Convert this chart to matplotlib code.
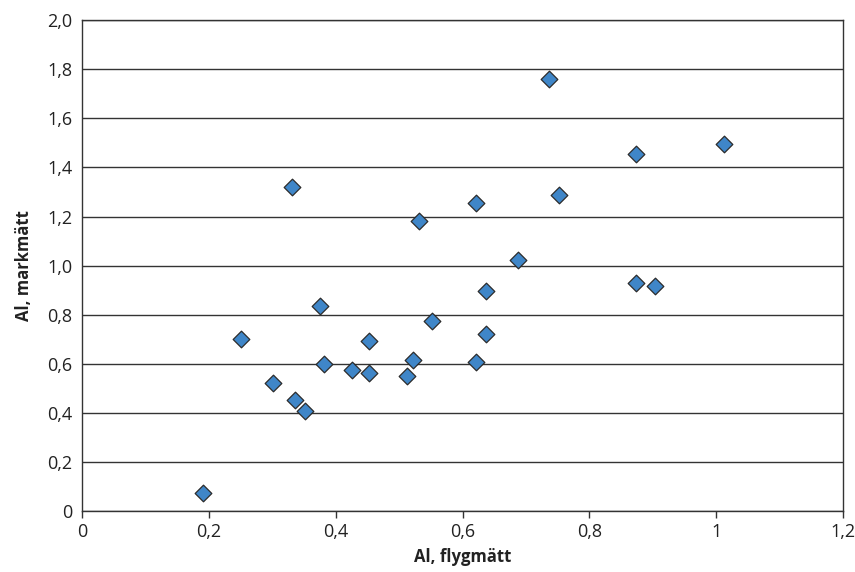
import matplotlib
matplotlib.use("Agg")
import matplotlib.pyplot as plt

# Al, flygmätt vs Al, markmätt
al_flyg = [0.191, 0.251, 0.301, 0.336, 0.352, 0.331, 0.376, 0.382, 0.426,
           0.452, 0.452, 0.512, 0.522, 0.532, 0.552, 0.622, 0.622, 0.637,
           0.637, 0.687, 0.737, 0.752, 0.873, 0.873, 0.903, 1.013]
al_mark = [0.077, 0.701, 0.522, 0.454, 0.409, 1.319, 0.835, 0.602, 0.576,
           0.693, 0.565, 0.553, 0.618, 1.181, 0.775, 0.607, 1.257, 0.897,
           0.722, 1.022, 1.759, 1.287, 1.456, 0.929, 0.918, 1.496]

x_ticks = [0, 0.2, 0.4, 0.6, 0.8, 1.0, 1.2]
x_labels = ["0", "0,2", "0,4", "0,6", "0,8", "1", "1,2"]
y_ticks = [0, 0.2, 0.4, 0.6, 0.8, 1.0, 1.2, 1.4, 1.6, 1.8, 2.0]
y_labels = ["0", "0,2", "0,4", "0,6", "0,8", "1,0", "1,2", "1,4", "1,6", "1,8", "2,0"]

plt.rcParams['font.family'] = ['Open Sans', 'DejaVu Sans']

fig = plt.figure(figsize=(8.55, 5.72), dpi=100)
ax = fig.add_axes([0.0959, 0.1058, 0.8901, 0.8592])

ax.scatter(al_flyg, al_mark, marker='D', s=72, c='#3F86C8',
           edgecolors='#2b2b2b', linewidths=0.9, zorder=3)

ax.set_xlim(0, 1.2)
ax.set_ylim(0, 2.0)
ax.set_xticks(x_ticks)
ax.set_xticklabels(x_labels)
ax.set_yticks(y_ticks)
ax.set_yticklabels(y_labels)

ax.yaxis.grid(True, color='#333333', linewidth=1.0)
ax.set_axisbelow(True)
for side in ['left', 'bottom', 'top', 'right']:
    ax.spines[side].set_color('#333333')
    ax.spines[side].set_linewidth(1.0)

ax.tick_params(axis='x', length=5, width=1, color='#333333', labelsize=13,
               labelcolor='#222222', pad=3)
ax.tick_params(axis='y', length=0, labelsize=13, labelcolor='#222222', pad=7)

ax.set_xlabel("Al, flygmätt", fontsize=12, fontweight='bold', color='#222222', labelpad=5)
ax.set_ylabel("Al, markmätt", fontsize=12, fontweight='bold', color='#222222', labelpad=10)

fig.savefig("out.png", dpi=100)
